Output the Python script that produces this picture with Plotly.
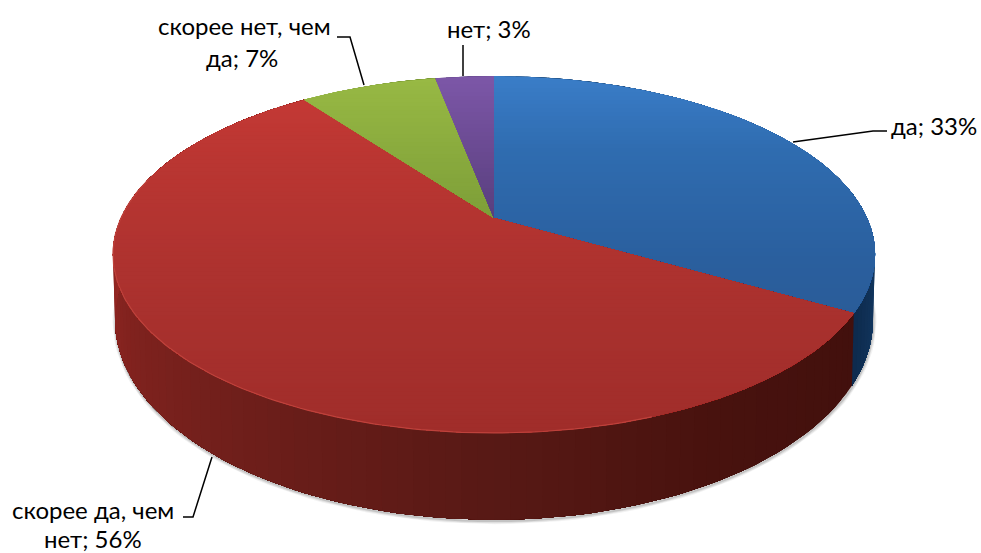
import numpy as np
import plotly.graph_objects as go

categories = ["да", "скорее да, чем нет", "скорее нет, чем да", "нет"]
values = [33, 56, 7, 3]

# --- styling -------------------------------------------------------------
W, H = 981, 553
TOP_STOPS = [  # pixel y -> rgb on the top face
    ([76, 150, 260, 320], [(58, 125, 200), (47, 108, 176), (42, 95, 158), (42, 92, 152)]),
    ([90, 160, 300, 433], [(197, 57, 53), (186, 54, 50), (170, 49, 46), (160, 45, 42)]),
    ([78, 218], [(152, 185, 68), (125, 158, 56)]),
    ([76, 218], [(125, 87, 168), (88, 62, 125)]),
]
WALL_STOPS = [  # angle (deg, clockwise from top) -> rgb on the side wall
    ([85, 120], [(24, 68, 115), (13, 42, 76)]),
    ([120, 150, 180, 215, 240, 270, 300], [(66, 16, 13), (72, 18, 14), (88, 25, 21), (112, 31, 27), (128, 34, 30), (152, 40, 36), (160, 42, 38)]),
    ([320, 350], [(120, 150, 50), (120, 150, 50)]),
    ([350, 360], [(80, 55, 115), (80, 55, 115)]),
]
K = 0.2045
TOP_DISC = dict(x0=494, y0=218, a=171.0, b=373.0)
BASE_DISC = dict(x0=494, y0=279, a=191.5, b=371.0)


def project(disc, theta_deg, r=1.0):
    t = np.radians(theta_deg)
    sx, cy = r * np.sin(t), r * np.cos(t)
    d = 1 + K * cy
    return disc["x0"] + disc["b"] * sx / d, disc["y0"] - disc["a"] * cy / d


def rgb_at(v, xs, cols):
    parts = [int(round(np.interp(v, xs, [c[i] for c in cols]))) for i in range(3)]
    return f"rgb({parts[0]},{parts[1]},{parts[2]})"


def clip_below(pts, ymin):
    """Keep the part of a polygon whose pixel y is at least ymin."""
    out = []
    for j, (x0, y0) in enumerate(pts):
        x1, y1 = pts[(j + 1) % len(pts)]
        if y0 >= ymin:
            out.append((x0, y0))
        if (y0 >= ymin) != (y1 >= ymin):
            f = (ymin - y0) / (y1 - y0)
            out.append((x0 + f * (x1 - x0), ymin))
    return out


def polygon(fig, pts, col):
    fig.add_trace(go.Scatter(x=[p[0] for p in pts] + [pts[0][0]], y=[p[1] for p in pts] + [pts[0][1]],
                             mode="lines", fill="toself", fillcolor=col, line=dict(color=col, width=0),
                             hoverinfo="skip", showlegend=False))


# slice angles from the values
total = sum(values)
edges = np.concatenate([[0], np.cumsum(values)]) / total * 360.0

fig = go.Figure()

# soft shadow under the base
ring = np.arange(70, 291, 2.0)
bx, by = project(BASE_DISC, ring)
for width, alpha in ((6, 0.05), (4, 0.08), (2, 0.12)):
    fig.add_trace(go.Scatter(x=bx + 0.5, y=by + 1.5, mode="lines", line=dict(color=f"rgba(0,0,0,{alpha})", width=width),
                             hoverinfo="skip", showlegend=False))

# side walls: painted in steps of angle, each step covers the rest of the slice
for i in range(len(values)):
    ts = np.append(np.arange(edges[i], edges[i + 1], 2.0), edges[i + 1])
    xs, cols = WALL_STOPS[i]
    for k in range(len(ts) - 1):
        rest = ts[k:]
        tx, ty = project(TOP_DISC, rest)
        lx, ly = project(BASE_DISC, rest[::-1])
        polygon(fig, list(zip(tx, ty)) + list(zip(lx, ly)), rgb_at(ts[k], xs, cols))

# top faces: painted in bands of pixel height, each band covers all that lies below it
for i in range(len(values)):
    ts = np.linspace(edges[i], edges[i + 1], max(8, int((edges[i + 1] - edges[i]) * 2)))
    ex, ey = project(TOP_DISC, ts)
    wedge = [(TOP_DISC["x0"], TOP_DISC["y0"])] + list(zip(ex, ey))
    ylo, yhi = min(p[1] for p in wedge), max(p[1] for p in wedge)
    xs, cols = TOP_STOPS[i]
    for yb in np.arange(ylo, yhi, 4.0):
        part = wedge if yb == ylo else clip_below(wedge, yb)
        if len(part) >= 3:
            polygon(fig, part, rgb_at(yb + 2, xs, cols))

# light rim on the front of the red top
rim_t = np.arange(max(edges[1], 160), 285, 1.0)
rx, ry = project(TOP_DISC, rim_t)
fig.add_trace(go.Scatter(x=rx, y=ry, mode="lines", line=dict(color="rgb(190,66,60)", width=1.2),
                         hoverinfo="skip", showlegend=False))

# leader lines
LEADERS = [
    [(793, 142), (873, 131), (887, 131)],
    [(212, 457), (193, 517), (183, 517)],
    [(364, 85), (350, 37), (337, 37)],
    [(463, 76), (463, 45)],
]
for pts in LEADERS:
    fig.add_trace(go.Scatter(x=[p[0] for p in pts], y=[p[1] for p in pts], mode="lines",
                             line=dict(color="black", width=1.5), hoverinfo="skip", showlegend=False))

# labels
LABEL_POS = [
    [(934, 125)],
    [(93, 509), (93, 538)],
    [(244, 25), (242, 57)],
    [(489, 28)],
]
WRAP = [None, 3, 3, None]
annotations = []
for cat, val, pos, wrap in zip(categories, values, LABEL_POS, WRAP):
    words = f"{cat}; {val}%".split(" ")
    lines = [" ".join(words)] if wrap is None else [" ".join(words[:wrap]), " ".join(words[wrap:])]
    for line, (px, py) in zip(lines, pos):
        annotations.append(dict(x=px, y=py, text=line, showarrow=False, xref="x", yref="y",
                                xanchor="center", yanchor="middle",
                                font=dict(family="Lato", size=24, color="black")))

fig.update_layout(
    width=W, height=H, margin=dict(l=0, r=0, t=0, b=0), showlegend=False,
    paper_bgcolor="white", plot_bgcolor="white", annotations=annotations,
    xaxis=dict(range=[0, W], visible=False, fixedrange=True),
    yaxis=dict(range=[H, 0], visible=False, fixedrange=True),
)
fig.write_html("out.html", config=dict(displayModeBar=False),
               post_script="document.body.style.margin='0';document.body.style.overflow='hidden';")
